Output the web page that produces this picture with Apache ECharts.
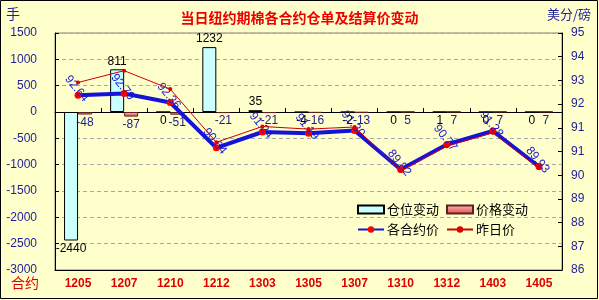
<!DOCTYPE html>
<html>
<head>
<meta charset="utf-8">
<title>当日纽约期棉各合约仓单及结算价变动</title>
<script src="https://cdn.jsdelivr.net/npm/echarts@6/dist/echarts.min.js"></script>
<style>
  html, body { margin: 0; padding: 0; background: #ffffcc; }
  #main { width: 599px; height: 300px; }
</style>
</head>
<body>
<div id="main"></div>
<script>
// 合约
const contracts = ['1205', '1207', '1210', '1212', '1303', '1305', '1307', '1310', '1312', '1403', '1405'];
// 仓位变动（手）
const positionChange = [-2440, 811, 0, 1232, 35, -4, -2, 0, 1, 0, 0];
// 价格变动（点）
const priceChange = [-48, -87, -51, -21, -21, -16, -13, 5, 7, 7, 7];
// 各合约价 / 昨日价（美分/磅）
const settlePrice = [92.64, 92.70, 92.36, 90.64, 91.24, 91.19, 91.30, 89.82, 90.77, 91.28, 89.93];
const prevPrice = [93.12, 93.57, 92.87, 90.85, 91.45, 91.35, 91.43, 89.77, 90.70, 91.21, 89.86];
// 坐标轴刻度
const leftTicks = { min: -3000, max: 1500, interval: 500 };
const rightTicks = { min: 86, max: 95, interval: 0.9 };

const cjk = '"Noto Sans CJK SC", sans-serif';
const latin = 'Arial, "Liberation Sans", sans-serif';
const axisBlue = '#1c1c9c';

const myChart = echarts.init(document.getElementById('main'));

myChart.setOption({
  backgroundColor: '#ffffcc',
  animation: false,
  title: {
    text: '当日纽约期棉各合约仓单及结算价变动',
    left: 'center',
    top: 6,
    textStyle: { color: '#ee0000', fontSize: 14, fontWeight: 'bold', fontFamily: cjk }
  },
  graphic: [
    { type: 'rect', shape: { x: 0.5, y: 0.5, width: 597, height: 298 }, style: { fill: 'none', stroke: '#000', lineWidth: 1 } },
    { type: 'text', left: 6, top: 7, style: { text: '手', fill: axisBlue, font: '14px ' + cjk } },
    { type: 'text', left: 547, top: 8, style: { text: '美分/磅', fill: axisBlue, font: '13px ' + cjk } },
    { type: 'text', left: 11, top: 276, style: { text: '合约', fill: '#dd0000', font: '14px ' + cjk } }
  ],
  legend: {
    left: 357,
    top: 203,
    width: 180,
    padding: 0,
    itemWidth: 26,
    itemHeight: 8,
    itemGap: 7,
    textStyle: { color: '#000', fontSize: 13, fontFamily: cjk, padding: [0, 0, 0, -2] },
    data: [
      { name: '仓位变动', icon: 'rect' },
      { name: '价格变动', icon: 'rect' },
      '各合约价',
      '昨日价'
    ]
  },
  grid: {
    left: 55, right: 37, top: 33, bottom: 30,
    show: true, borderColor: '#808080', borderWidth: 1, backgroundColor: 'transparent'
  },
  xAxis: [
    {
      type: 'category',
      data: contracts,
      position: 'bottom',
      axisLine: { onZero: false, lineStyle: { color: '#000' } },
      axisTick: { show: false },
      axisLabel: { color: '#dd0000', fontWeight: 'bold', fontSize: 12, fontFamily: latin, margin: 8 }
    },
    {
      // 零线上的分类刻度
      type: 'category',
      data: contracts,
      position: 'top',
      axisLine: { onZero: true, onZeroAxisIndex: 0, lineStyle: { color: '#000' } },
      axisTick: { show: true, length: 4, lineStyle: { color: '#000' } },
      axisLabel: { show: false }
    }
  ],
  yAxis: [
    {
      type: 'value',
      min: leftTicks.min,
      max: leftTicks.max,
      interval: leftTicks.interval,
      axisLine: { show: true, lineStyle: { color: '#000' } },
      axisTick: { show: true, inside: true, length: 4, lineStyle: { color: '#000' } },
      axisLabel: { color: axisBlue, fontSize: 12, margin: 18, fontFamily: latin, formatter: v => String(v) },
      splitLine: { lineStyle: { color: '#a8a8a8', type: [4, 3] } }
    },
    {
      type: 'value',
      position: 'right',
      min: rightTicks.min,
      max: rightTicks.max,
      interval: rightTicks.interval,
      axisLine: { show: true, lineStyle: { color: '#000' } },
      axisTick: { show: true, inside: true, length: 4, lineStyle: { color: '#000' } },
      axisLabel: {
        color: axisBlue, fontSize: 12, margin: 9, fontFamily: latin,
        formatter: v => String(Math.round(v + 1e-9))
      },
      splitLine: { show: false }
    }
  ],
  series: [
    {
      name: '仓位变动',
      type: 'bar',
      data: positionChange,
      barWidth: 14,
      barGap: '0%',
      itemStyle: { color: '#ccffff', borderColor: '#000', borderWidth: 1 },
      label: { show: true, position: 'outside', distance: 2, color: '#000', fontSize: 12, fontFamily: latin }
    },
    {
      name: '价格变动',
      type: 'bar',
      data: priceChange,
      barWidth: 14,
      barGap: '0%',
      itemStyle: {
        color: new echarts.graphic.LinearGradient(0, 0, 0, 1, [
          { offset: 0, color: '#ffc8c8' },
          { offset: 0.5, color: '#f08080' },
          { offset: 1, color: '#d85050' }
        ]),
        borderColor: '#602020',
        borderWidth: 1
      },
      label: { show: true, position: 'outside', distance: 2, color: '#1c1c8c', fontSize: 12, fontFamily: latin }
    },
    {
      name: '各合约价',
      type: 'line',
      yAxisIndex: 1,
      data: settlePrice,
      symbol: 'circle',
      symbolSize: 7,
      lineStyle: { color: '#1414d8', width: 4 },
      itemStyle: { color: '#ff0000', borderWidth: 0 },
      label: {
        show: true,
        position: 'inside',
        rotate: -51,
        offset: [-6, -3],
        color: '#1a1ad0',
        fontSize: 12,
        fontFamily: latin,
        formatter: p => p.value.toFixed(2)
      },
      z: 3
    },
    {
      name: '昨日价',
      type: 'line',
      yAxisIndex: 1,
      data: prevPrice,
      symbol: 'circle',
      symbolSize: 4,
      lineStyle: { color: '#cc0000', width: 1 },
      itemStyle: { color: '#dd0000', borderWidth: 0 },
      z: 4
    }
  ]
});
</script>
</body>
</html>
